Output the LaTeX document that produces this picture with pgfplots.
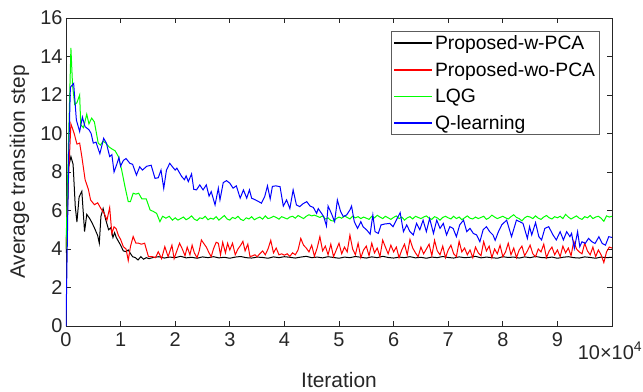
\documentclass[border=0pt]{standalone}
\usepackage{pgfplots}
\pgfplotsset{compat=1.18}
\usepackage{fontspec}
\setmainfont{Liberation Sans}
\definecolor{axgray}{rgb}{0.15,0.15,0.15}
\begin{document}
\begin{tikzpicture}
\useasboundingbox (-66bp,-66bp) rectangle (577bp,326bp);
\begin{axis}[
 scale only axis, width=546bp, height=308bp,
 xmin=0, xmax=10, ymin=0, ymax=16,
 xtick={0,1,...,9}, ytick={0,2,...,16},
 tick align=inside, major tick length=5bp,
 axis line style={axgray, line width=0.7bp},
 tick style={axgray, line width=0.7bp},
 ticklabel style={font=\fontsize{20}{22}\selectfont, text=axgray},
 xticklabel style={yshift=-3bp},
 /pgf/number format/assume math mode=true,
 xlabel={Iteration}, ylabel={Average transition step},
 label style={font=\fontsize{21}{23}\selectfont, text=axgray},
 xlabel style={at={(axis description cs:0.5,-0.175)}, anchor=center},
 ylabel style={at={(axis description cs:-0.085,0.5)}, anchor=center},
 legend cell align=left,
 legend style={at={(0.977,0.958)}, anchor=north east, draw=axgray!75, line width=0.6bp,
   font=\fontsize{19.4}{21}\selectfont, text=black, row sep=7.3bp, inner sep=2bp,
   nodes={inner ysep=2bp}},
 legend image code/.code={\draw[#1,line width=1.5bp] (0bp,0bp) -- (38bp,0bp);},
]
\addplot[color=black, line width=1bp] coordinates {
(0,3.8)(0.05,8.3)(0.09,8.8)(0.13,8.4)(0.17,6.2)(0.2,5.4)(0.24,6.7)(0.29,7.0)(0.34,4.9)(0.38,5.8)(0.43,5.6)(0.47,5.4)(0.52,5.1)(0.58,4.7)(0.61,4.3)(0.64,5.7)(0.68,6.1)(0.72,5.6)(0.75,5.3)(0.78,5.0)(0.82,5.1)(0.86,4.6)(0.89,4.85)(0.92,4.6)(0.96,4.4)(1.0,4.2)(1.05,3.9)(1.1,3.86)(1.14,3.95)(1.18,3.77)(1.22,3.6)(1.27,3.55)(1.32,3.43)(1.37,3.6)(1.42,3.47)(1.47,3.55)(1.52,3.5)
(1.6,3.56)(1.7,3.60)(1.8,3.53)(1.9,3.58)(2.0,3.55)(2.1,3.62)(2.2,3.54)(2.3,3.57)(2.4,3.52)(2.5,3.59)
(2.6,3.55)(2.7,3.60)(2.8,3.54)(2.9,3.57)(3.0,3.52)(3.1,3.58)(3.2,3.61)(3.3,3.55)(3.4,3.53)(3.5,3.58)
(3.6,3.56)(3.7,3.52)(3.8,3.59)(3.9,3.55)(4.0,3.60)(4.1,3.57)(4.2,3.53)(4.3,3.58)(4.4,3.62)(4.5,3.55)
(4.6,3.58)(4.7,3.54)(4.8,3.60)(4.9,3.56)(5.0,3.52)(5.1,3.58)(5.2,3.55)(5.3,3.61)(5.4,3.57)(5.5,3.53)
(5.6,3.59)(5.7,3.55)(5.8,3.62)(5.9,3.56)(6.0,3.53)(6.1,3.58)(6.2,3.55)(6.3,3.60)(6.4,3.54)(6.5,3.57)
(6.6,3.52)(6.7,3.58)(6.8,3.55)(6.9,3.61)(7.0,3.56)(7.1,3.53)(7.2,3.59)(7.3,3.55)(7.4,3.57)(7.5,3.62)
(7.6,3.54)(7.7,3.58)(7.8,3.55)(7.9,3.52)(8.0,3.60)(8.1,3.56)(8.2,3.58)(8.3,3.53)(8.4,3.59)(8.5,3.55)
(8.6,3.61)(8.7,3.56)(8.8,3.54)(8.9,3.58)(9.0,3.52)(9.1,3.57)(9.2,3.60)(9.3,3.55)(9.4,3.53)(9.5,3.59)
(9.6,3.56)(9.7,3.52)(9.8,3.58)(9.9,3.55)(10.0,3.57)
};
\addlegendentry{Proposed-w-PCA}
\addplot[color=red, line width=1bp] coordinates {
(0,4.0)(0.05,8.0)(0.09,10.5)(0.15,10.0)(0.2,9.45)(0.25,9.5)(0.29,8.8)(0.35,7.6)(0.41,7.1)(0.45,6.55)(0.52,6.3)(0.58,6.4)(0.64,6.1)(0.7,5.85)(0.75,5.5)(0.8,6.15)(0.84,4.8)(0.88,5.15)(0.92,5.05)(0.96,4.7)(1.0,4.5)(1.05,4.12)(1.1,4.0)(1.14,3.4)(1.18,4.12)(1.23,4.65)(1.28,4.3)(1.33,4.3)(1.38,4.25)(1.44,4.3)(1.51,3.6)(1.58,3.6)(1.64,3.55)(1.69,3.86)(1.75,3.5)(1.81,4.12)(1.87,3.6)(1.94,4.2)(1.98,3.5)(2.03,3.9)(2.08,4.3)(2.13,4.0)(2.18,3.65)(2.22,4.1)(2.27,3.7)(2.31,4.2)(2.35,3.8)(2.4,3.55)(2.44,3.9)(2.48,4.47)(2.52,4.3)(2.57,4.1)(2.62,3.8)(2.66,3.6)(2.7,4.0)(2.75,4.35)(2.79,4.3)(2.83,3.7)(2.87,4.35)(2.92,3.8)(2.96,4.3)(3.0,3.95)(3.05,4.3)(3.1,3.7)(3.15,4.0)(3.2,4.2)(3.24,4.4)(3.28,3.9)(3.33,4.25)(3.37,3.6)(3.42,3.65)(3.46,3.7)(3.5,3.6)(3.55,3.75)(3.6,3.9)(3.65,3.7)(3.7,4.0)(3.75,4.45)
(3.80,3.80)(3.85,4.05)(3.90,3.70)(3.95,3.75)
(4.00,3.68)(4.05,3.75)(4.10,3.62)(4.15,3.80)(4.20,3.70)(4.25,3.95)(4.30,4.55)(4.35,4.20)(4.40,4.05)(4.45,3.85)
(4.50,4.20)(4.55,3.62)(4.60,4.05)(4.65,4.64)(4.70,3.90)(4.75,4.15)(4.80,3.70)(4.85,4.25)(4.90,3.60)(4.95,3.95)
(5.00,4.30)(5.05,3.75)(5.10,4.10)(5.15,3.85)(5.20,4.72)(5.25,4.00)(5.30,3.70)(5.35,4.30)(5.40,3.55)(5.45,3.95)
(5.50,4.15)(5.55,3.65)(5.60,4.30)(5.65,3.80)(5.70,4.05)(5.75,3.60)(5.80,4.46)(5.85,4.10)(5.90,3.75)(5.95,4.20)
(6.00,3.85)(6.05,4.10)(6.10,3.55)(6.15,3.95)(6.20,4.25)(6.25,3.70)(6.30,4.50)(6.35,4.05)(6.40,3.80)(6.45,3.60)
(6.50,4.10)(6.55,3.75)(6.60,4.00)(6.65,4.25)(6.70,3.65)(6.75,4.45)(6.80,3.90)(6.85,3.70)(6.90,4.15)(6.95,3.55)
(7.00,3.95)(7.05,4.20)(7.10,3.75)(7.15,3.60)(7.20,4.40)(7.25,3.85)(7.30,4.05)(7.35,3.70)(7.40,3.95)(7.45,3.55)
(7.50,4.10)(7.55,3.80)(7.60,3.65)(7.65,4.38)(7.70,3.90)(7.75,4.15)(7.80,3.55)(7.85,4.00)(7.90,3.75)(7.95,4.20)
(8.00,3.60)(8.05,3.85)(8.10,4.30)(8.15,3.70)(8.20,4.05)(8.25,3.55)(8.30,3.95)(8.35,4.15)(8.40,3.65)(8.45,3.90)
(8.50,4.20)(8.55,3.75)(8.60,3.60)(8.65,4.00)(8.70,3.85)(8.75,4.25)(8.80,3.55)(8.85,3.90)(8.90,4.10)(8.95,3.70)
(9.00,3.95)(9.05,3.60)(9.10,4.15)(9.15,3.80)(9.20,4.05)(9.25,3.65)(9.30,4.40)(9.35,4.00)(9.40,3.85)(9.45,3.75)
(9.50,4.30)(9.55,3.90)(9.60,3.70)(9.65,4.10)(9.70,3.60)(9.75,3.95)(9.80,3.70)(9.85,3.30)(9.90,3.85)(9.95,4.10)
(10.00,4.05)
};
\addlegendentry{Proposed-wo-PCA}
\addplot[color=green, line width=1bp] coordinates {
(0,4.0)(0.05,10)(0.09,14.45)(0.12,12.5)(0.16,11.5)(0.2,11.6)(0.25,12.0)(0.27,10.45)(0.32,10.3)(0.38,11.0)(0.42,10.5)(0.47,10.8)(0.52,10.6)(0.59,9.5)(0.63,9.4)(0.68,9.6)(0.73,9.5)(0.79,9.3)(0.84,9.2)(0.9,9.1)(0.96,8.8)(1.02,8.1)(1.08,7.24)(1.14,6.46)(1.18,6.46)(1.23,6.9)(1.28,6.85)(1.33,6.9)(1.39,6.6)(1.47,6.6)(1.54,6.03)(1.6,5.95)(1.66,5.85)(1.72,5.42)(1.77,5.7)(1.83,5.6)(1.89,5.7)(1.95,5.5)
(2.00,5.62)(2.05,5.50)(2.10,5.58)(2.15,5.66)(2.20,5.52)(2.25,5.60)(2.30,5.72)(2.35,5.55)(2.40,5.48)(2.45,5.62)
(2.50,5.58)(2.55,5.70)(2.60,5.52)(2.65,5.60)(2.70,5.55)(2.75,5.68)(2.80,5.50)(2.85,5.62)(2.90,5.74)(2.95,5.56)
(3.00,5.50)(3.05,5.64)(3.10,5.58)(3.15,5.70)(3.20,5.54)(3.25,5.48)(3.30,5.62)(3.35,5.56)(3.40,5.68)(3.45,5.52)
(3.50,5.60)(3.55,5.66)(3.60,5.55)(3.65,5.72)(3.70,5.58)(3.75,5.62)(3.80,5.70)(3.85,5.64)(3.90,5.55)(3.95,5.68)
(4.00,5.62)(4.05,5.56)(4.10,5.66)(4.15,5.70)(4.20,5.60)(4.25,5.74)(4.30,5.66)(4.35,5.58)(4.40,5.70)(4.45,5.78)
(4.50,5.72)(4.55,5.76)(4.60,5.70)(4.65,5.64)(4.70,5.72)(4.75,5.56)(4.80,5.62)(4.85,5.48)(4.90,5.45)(4.95,5.58)
(5.00,5.66)(5.05,5.60)(5.10,5.72)(5.15,5.64)(5.20,5.56)(5.25,5.70)(5.30,5.62)(5.35,5.68)(5.40,5.58)(5.45,5.66)
(5.50,5.60)(5.55,5.54)(5.60,5.70)(5.65,5.62)(5.70,5.75)(5.75,5.66)(5.80,5.58)(5.85,5.70)(5.90,5.62)(5.95,5.54)
(6.00,5.64)(6.05,5.72)(6.10,5.58)(6.15,5.66)(6.20,5.50)(6.25,5.62)(6.30,5.68)(6.35,5.56)(6.40,5.70)(6.45,5.64)
(6.50,5.58)(6.55,5.66)(6.60,5.72)(6.65,5.60)(6.70,5.54)(6.75,5.68)(6.80,5.62)(6.85,5.50)(6.90,5.64)(6.95,5.70)
(7.00,5.62)(7.05,5.56)(7.10,5.70)(7.15,5.58)(7.20,5.66)(7.25,5.52)(7.30,5.62)(7.35,5.72)(7.40,5.60)(7.45,5.56)
(7.50,5.66)(7.55,5.58)(7.60,5.64)(7.65,5.70)(7.70,5.54)(7.75,5.62)(7.80,5.76)(7.85,5.66)(7.90,5.58)(7.95,5.64)
(8.00,5.70)(8.05,5.62)(8.10,5.56)(8.15,5.68)(8.20,5.78)(8.25,5.64)(8.30,5.58)(8.35,5.46)(8.40,5.62)(8.45,5.70)
(8.50,5.66)(8.55,5.58)(8.60,5.72)(8.65,5.60)(8.70,5.54)(8.75,5.66)(8.80,5.74)(8.85,5.62)(8.90,5.56)(8.95,5.68)
(9.00,5.62)(9.05,5.70)(9.10,5.58)(9.15,5.80)(9.20,5.66)(9.25,5.56)(9.30,5.64)(9.35,5.72)(9.40,5.60)(9.45,5.54)
(9.50,5.68)(9.55,5.62)(9.60,5.74)(9.65,5.58)(9.70,5.66)(9.75,5.70)(9.80,5.60)(9.85,5.44)(9.90,5.72)(9.95,5.66)
(10.00,5.70)
};
\addlegendentry{LQG}
\addplot[color=blue, line width=1bp] coordinates {
(0,0)(0.05,9)(0.08,12.4)(0.14,12.6)(0.19,10.7)(0.25,10.1)(0.3,10.85)(0.35,10.35)(0.42,10.2)(0.46,10.0)(0.5,9.5)(0.55,9.55)(0.62,8.95)(0.69,9.75)(0.74,9.5)(0.8,8.8)(0.84,8.9)(0.88,8.0)(0.93,8.4)(0.97,8.75)(1.0,8.3)(1.05,8.6)(1.1,8.7)(1.17,8.45)(1.22,8.4)(1.29,7.84)(1.35,8.27)(1.4,8.1)(1.48,8.3)(1.56,8.35)(1.63,7.67)(1.69,7.7)(1.74,8.1)(1.79,7.15)(1.84,8.1)(1.9,8.45)(1.95,8.27)(2.0,8.1)(2.03,8.2)(2.12,7.76)(2.17,7.6)(2.2,7.8)(2.24,7.5)(2.3,7.9)(2.34,7.1)(2.39,7.07)(2.45,7.33)(2.51,7.07)(2.57,7.33)(2.62,6.75)(2.66,6.98)(2.73,6.29)(2.79,7.16)(2.82,6.55)(2.88,7.45)(2.94,7.55)(3.0,7.42)(3.06,7.16)(3.12,7.28)(3.19,6.64)(3.25,7.07)(3.31,6.64)(3.36,7.07)(3.4,6.64)(3.47,6.55)(3.53,6.46)(3.58,6.38)(3.64,6.73)(3.69,7.28)(3.74,6.6)(3.78,7.25)(3.84,7.28)(3.92,7.24)(3.98,6.23)(4.04,6.55)(4.1,6.1)(4.16,7.07)(4.22,6.29)(4.28,6.2)(4.34,6.35)(4.41,6.46)(4.47,6.23)(4.53,6.16)(4.59,5.85)(4.62,6.1)(4.68,5.85)(4.72,5.68)(4.77,5.2)(4.8,6.23)(4.86,5.85)(4.92,5.42)(4.97,6.55)(5.03,5.94)(5.08,5.68)(5.14,5.77)(5.2,6.03)(5.23,6.23)(5.28,5.42)(5.34,5.07)(5.4,5.42)(5.44,5.16)(5.51,4.98)(5.57,4.77)(5.62,5.77)(5.66,4.9)(5.72,4.81)(5.77,5.25)(5.84,5.3)(5.93,5.33)(5.99,5.16)(6.05,5.5)(6.12,5.89)(6.18,4.9)(6.24,5.25)(6.3,4.9)(6.36,4.73)(6.42,5.33)(6.48,5.0)(6.54,5.5)(6.6,4.9)(6.66,5.59)(6.73,4.81)(6.79,5.5)(6.85,5.07)(6.91,5.33)(6.97,4.73)(7.03,5.16)(7.09,5.07)(7.15,4.64)(7.21,5.25)(7.28,5.5)(7.34,4.9)(7.4,5.07)(7.46,4.81)(7.52,4.73)(7.58,4.38)(7.64,5.0)(7.7,5.16)(7.76,4.9)(7.82,4.73)(7.86,4.45)(7.92,4.9)(7.98,5.25)(8.07,5.5)(8.16,4.64)(8.25,5.5)(8.31,5.42)(8.37,5.33)(8.45,4.55)(8.49,5.16)(8.53,4.73)(8.6,5.37)(8.66,4.64)(8.71,4.47)(8.77,5.07)(8.84,5.16)(8.92,4.73)(8.98,4.47)(9.05,4.9)(9.11,4.47)(9.17,4.9)(9.23,4.64)(9.26,4.81)(9.31,4.03)(9.37,4.9)(9.41,4.12)(9.45,4.38)(9.51,4.29)(9.57,4.55)(9.63,4.38)(9.69,4.29)(9.76,4.64)(9.82,4.29)(9.88,4.2)(9.94,4.64)(10,4.6)
};
\addlegendentry{Q-learning}
\end{axis}
\node[font=\fontsize{20}{22}\selectfont, text=axgray] at (544bp,-25bp) {10×10\textsuperscript{4}};
\end{tikzpicture}
\end{document}
